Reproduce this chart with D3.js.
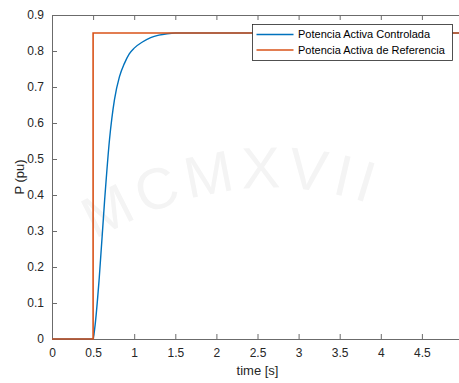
<!DOCTYPE html>
<html>
<head>
<meta charset="utf-8">
<script src="https://cdn.jsdelivr.net/npm/d3@7"></script>
<style>
body { margin: 0; background: #fff; }
svg { display: block; font-family: "Liberation Sans", Arial, sans-serif; }
</style>
</head>
<body>
<div id="chart"></div>
<script>
// Step response: controlled active power vs reference

var margin = { top: 15, right: -4, bottom: 44, left: 52 };
var width = 459, height = 383;

var timeCtrl = [0, 0.5, 0.52, 0.575, 0.64, 0.70, 0.76, 0.82, 0.88, 0.94, 1.0, 1.1, 1.2, 1.3, 1.4, 1.5, 2, 3, 4, 5];
var pCtrl    = [0, 0, 0.03, 0.17, 0.385, 0.555, 0.665, 0.728, 0.765, 0.792, 0.808, 0.825, 0.837, 0.844, 0.848, 0.85, 0.85, 0.85, 0.85, 0.85];
var timeRef = [0, 0.5, 0.5, 5];
var pRef    = [0, 0, 0.85, 0.85];
var xTicks = [0, 0.5, 1, 1.5, 2, 2.5, 3, 3.5, 4, 4.5];
var yTicks = [0, 0.1, 0.2, 0.3, 0.4, 0.5, 0.6, 0.7, 0.8, 0.9];
var seriesNames = ["Potencia Activa Controlada", "Potencia Activa de Referencia"];
var colors = ["#0072BD", "#D95319"];

var svg = d3.select("#chart").append("svg")
    .attr("width", width)
    .attr("height", height);

// faint watermark
var wm = svg.append("g").attr("fill", "#f4f4f4");
wm.append("path").attr("id", "wmarc")
    .attr("d", "M95,240 Q250,150 400,215").attr("fill", "none");
wm.append("text")
    .attr("font-size", 58)
    .attr("letter-spacing", 6)
    .append("textPath").attr("href", "#wmarc")
    .text("MCMXVII");

var x = d3.scaleLinear().domain([0, 5]).range([margin.left, width - margin.right]);
var y = d3.scaleLinear().domain([0, 0.9]).range([height - margin.bottom, margin.top]);

var axisColor = "#6b6b6b";
var textColor = "#262626";

// bottom axis, ticks inside
var gx = svg.append("g")
    .attr("transform", "translate(0," + y(0) + ")")
    .call(d3.axisBottom(x).tickValues(xTicks).tickSizeInner(-5).tickSizeOuter(0).tickPadding(9).tickFormat(d3.format("")));
gx.selectAll("text").style("font-size", "12px").attr("fill", textColor);

// top axis, ticks only
var gt = svg.append("g")
    .attr("transform", "translate(0," + y(0.9) + ")")
    .call(d3.axisTop(x).tickValues(xTicks).tickSizeInner(-5).tickSizeOuter(0).tickFormat(""));

var gy = svg.append("g")
    .attr("transform", "translate(" + x(0) + ",0)")
    .call(d3.axisLeft(y).tickValues(yTicks).tickSizeInner(-5).tickSizeOuter(0).tickPadding(8).tickFormat(d3.format("")));
gy.selectAll("text").style("font-size", "12px").attr("fill", textColor);

svg.selectAll(".domain, .tick line").attr("stroke", axisColor);

// lines
var lineCtrl = d3.line()
    .curve(d3.curveMonotoneX)
    .x(function(d, i) { return x(timeCtrl[i]); })
    .y(function(d) { return y(d); });
var lineRef = d3.line()
    .x(function(d, i) { return x(timeRef[i]); })
    .y(function(d) { return y(d); });

var plot = svg.append("g");
plot.append("path").datum(pCtrl)
    .attr("d", lineCtrl)
    .attr("fill", "none")
    .attr("stroke", colors[0])
    .attr("stroke-width", 1.4);
plot.append("path").datum(pRef)
    .attr("d", lineRef)
    .attr("fill", "none")
    .attr("stroke", colors[1])
    .attr("stroke-width", 1.6);

// axis labels
svg.append("text")
    .attr("x", (x(0) + x(5)) / 2)
    .attr("y", 375)
    .attr("text-anchor", "middle")
    .attr("fill", textColor)
    .style("font-size", "13px")
    .text("time [s]");

svg.append("text")
    .attr("transform", "translate(24,177) rotate(-90)")
    .attr("text-anchor", "middle")
    .attr("fill", textColor)
    .style("font-size", "13px")
    .text("P (pu)");

// legend
var lg = svg.append("g").attr("transform", "translate(252.5,24.5)");
lg.append("rect")
    .attr("width", 200)
    .attr("height", 36)
    .attr("fill", "#fff")
    .attr("stroke", textColor)
    .attr("stroke-width", 0.8);
seriesNames.forEach(function(name, i) {
    var row = lg.append("g").attr("transform", "translate(0," + (10 + i * 15.5) + ")");
    row.append("line")
        .attr("x1", 4).attr("x2", 41)
        .attr("stroke", colors[i])
        .attr("stroke-width", 1.5);
    row.append("text")
        .attr("x", 45.5)
        .attr("dy", "0.35em")
        .attr("fill", "#000")
        .style("font-size", "11px")
        .text(name);
});
</script>
</body>
</html>
